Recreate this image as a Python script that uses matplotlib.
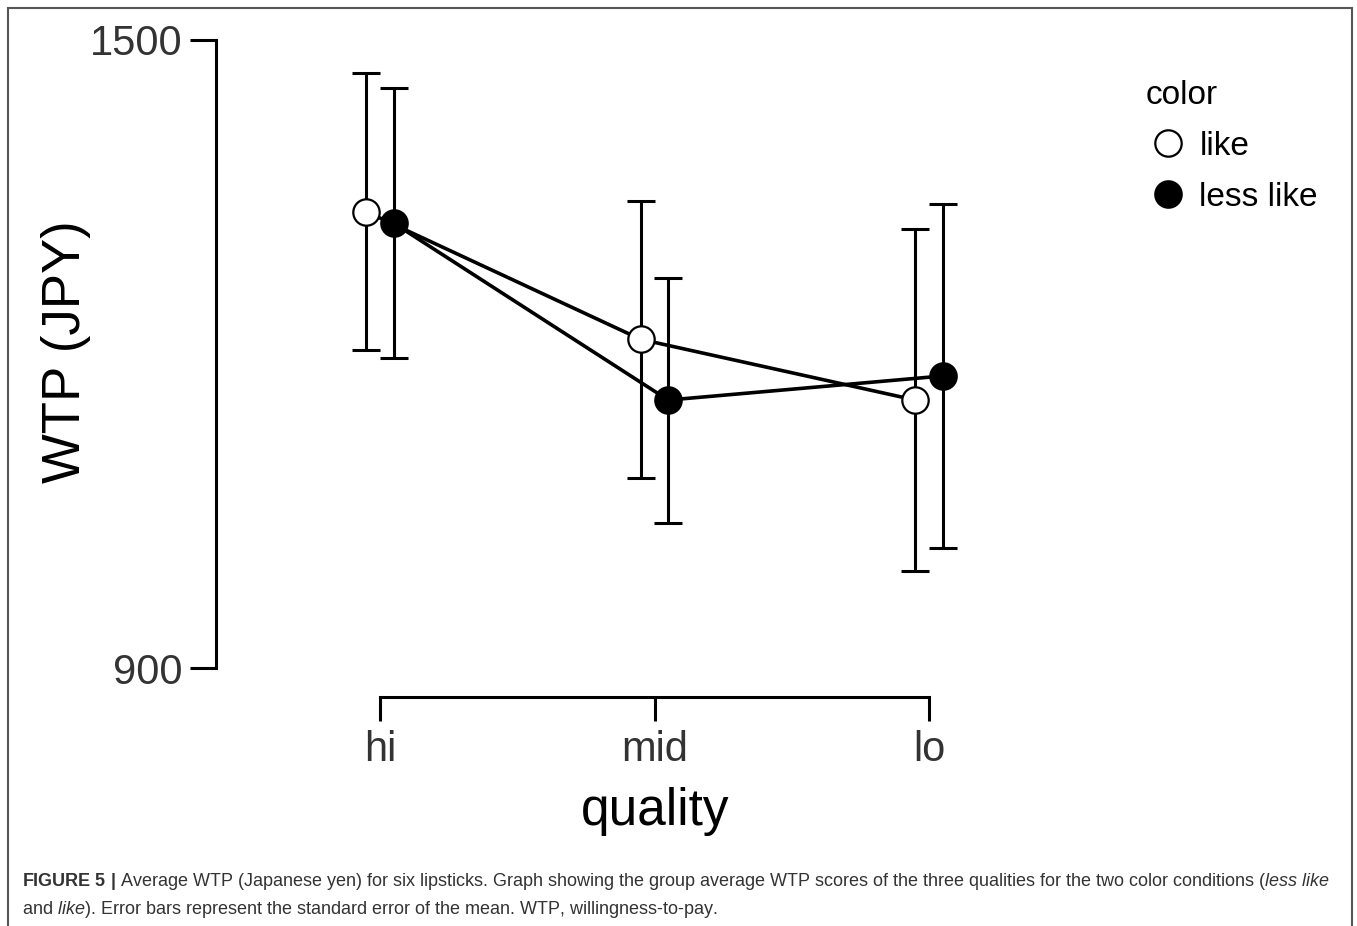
import matplotlib
matplotlib.use("Agg")
import matplotlib.pyplot as plt
from matplotlib.patches import Rectangle
import numpy as np

plt.rcParams['font.family'] = ['Liberation Sans', 'DejaVu Sans']
plt.rcParams['mathtext.fontset'] = 'custom'
plt.rcParams['mathtext.rm'] = 'Liberation Sans'
plt.rcParams['mathtext.it'] = 'Liberation Sans:italic'
plt.rcParams['mathtext.bf'] = 'Liberation Sans:bold'

# data (mean WTP and standard error)
quality = ['hi', 'mid', 'lo']
groups = ['like', 'less like']
like_mean = [1336, 1214, 1156]
like_se = [132, 132, 163]
less_mean = [1325, 1156, 1179]
less_se = [129, 117, 164]
y_ticks = [900, 1500]

W, H = 1357, 926
fig = plt.figure(figsize=(W / 100, H / 100), dpi=100)

def fx(px):
    return px / W

def fy(py):
    return 1 - py / H

ax = fig.add_axes([fx(216), fy(697), fx(1100) - fx(216), fy(19) - fy(697)])

x = np.arange(1, len(quality) + 1)
dodge = 0.05
styles = [
    (like_mean, like_se, -dodge, 'white'),
    (less_mean, less_se, dodge, 'black'),
]
for (m, se, off, fc), name in zip(styles, groups):
    ax.errorbar(x + off, m, yerr=se, fmt='none', ecolor='black',
                elinewidth=2.2, capsize=9.8, capthick=2.2, zorder=2)
    ax.plot(x + off, m, color='black', linewidth=2.6, zorder=3)
    ax.plot(x + off, m, linestyle='none', marker='o', markersize=19,
            markerfacecolor=fc, markeredgecolor='black', markeredgewidth=1.6,
            zorder=4, label=name)

ax.set_xlim(1 - 164 / 274.5, 3 + 171 / 274.5)
ax.set_ylim(872.3, 1500 + 21 / 1.0467)

for s in ['top', 'right']:
    ax.spines[s].set_visible(False)
for s in ['left', 'bottom']:
    ax.spines[s].set_linewidth(2.2)
ax.spines['left'].set_bounds(900, 1500)
ax.spines['bottom'].set_bounds(1, 3)

ax.set_yticks(y_ticks)
ax.set_yticklabels([str(v) for v in y_ticks])
ax.set_xticks(x)
ax.set_xticklabels(quality)
ax.tick_params(axis='y', length=19, width=2.2, pad=5, labelsize=30, labelcolor='#333333')
ax.tick_params(axis='x', length=17, width=2.2, pad=7, labelsize=30, labelcolor='#333333')

ax.set_xlabel('quality', fontsize=37)
ax.set_ylabel('WTP (JPY)', fontsize=38)
ax.xaxis.set_label_coords(fx(655), fy(812), transform=fig.transFigure)
ax.xaxis.label.set_va('center')
ax.yaxis.set_label_coords(fx(66), fy(352), transform=fig.transFigure)
ax.yaxis.label.set_va('center')

leg = ax.legend(title='color', loc='upper left', bbox_to_anchor=(fx(1116), fy(50)),
                bbox_transform=fig.transFigure, frameon=False, fontsize=24,
                title_fontsize=24, alignment='left', markerscale=1.0,
                handletextpad=0.3, labelspacing=0.6, handlelength=1.3)

# caption
cap_kw = dict(fontsize=13, color='#333333', ha='left', va='center')
fig.text(fx(22), fy(882),
         r'$\mathbf{FIGURE\ 5\ |}$ Average WTP (Japanese yen) for six lipsticks. '
         r'Graph showing the group average WTP scores of the three qualities for the '
         r'two color conditions ($\mathit{less\ like}$', **cap_kw)
fig.text(fx(22), fy(909),
         r'and $\mathit{like}$). Error bars represent the standard error of the mean. '
         r'WTP, willingness-to-pay.', **cap_kw)

# frame around the figure
fig.patches.append(Rectangle((fx(8), fy(940)), fx(1352) - fx(8), fy(8) - fy(940),
                             transform=fig.transFigure, fill=False,
                             edgecolor='#555555', linewidth=1.5, clip_on=False))

fig.savefig('out.png', dpi=100)
